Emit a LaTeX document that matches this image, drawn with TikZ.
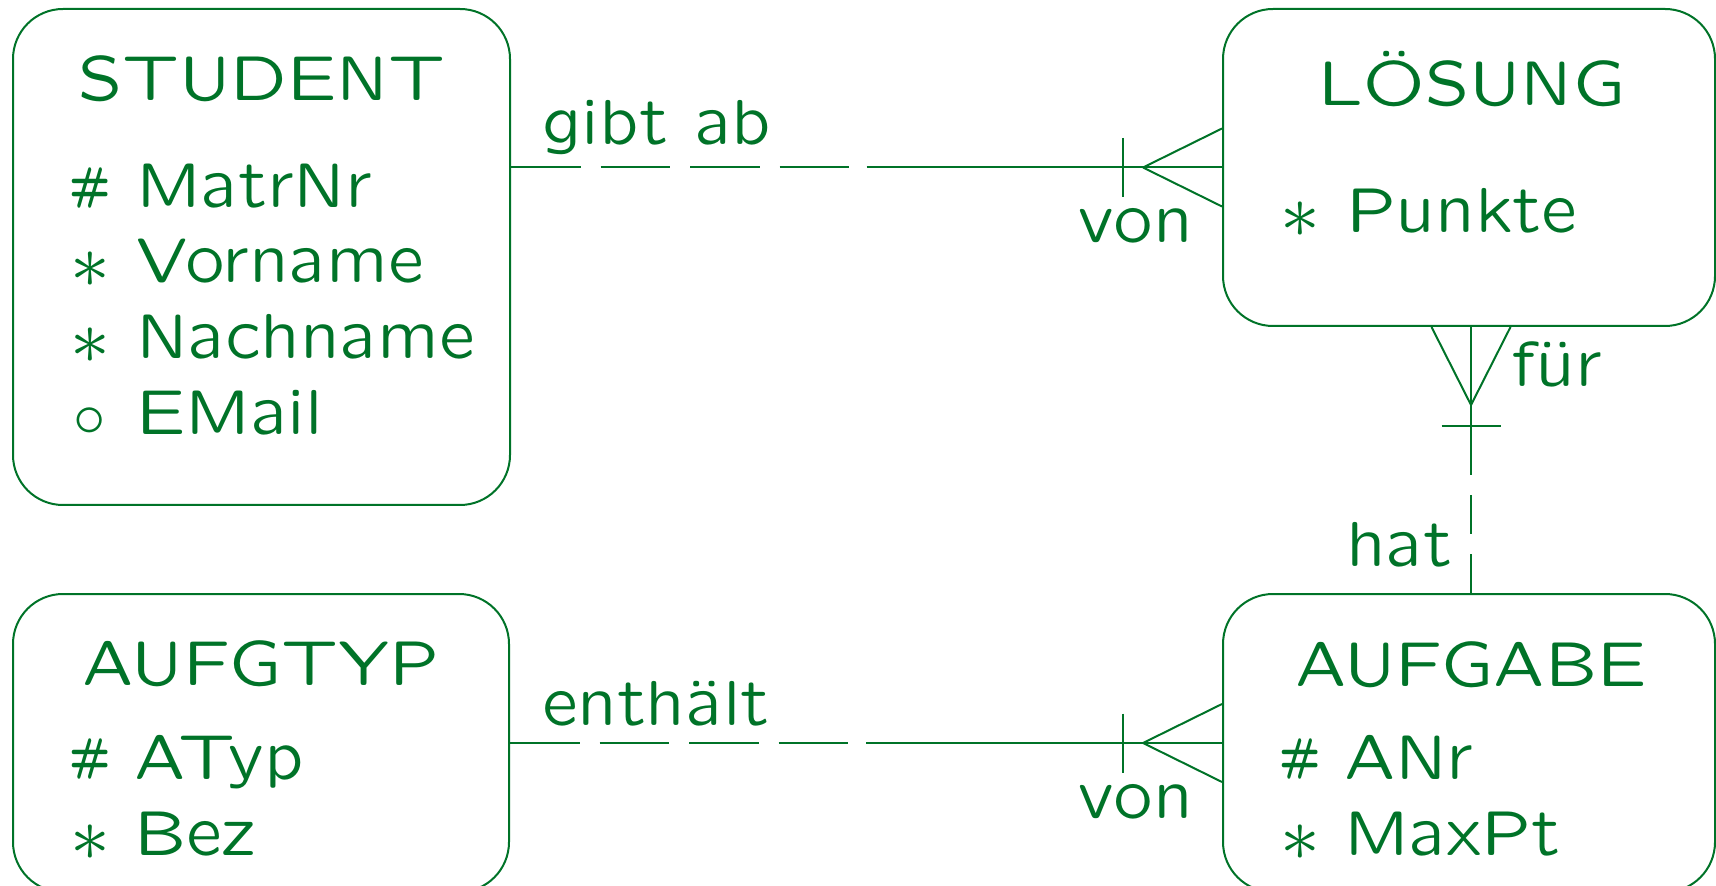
\documentclass[tikz,border=0pt]{standalone}
\usepackage[OT1,TU]{fontenc}
\usepackage{graphicx}
\usetikzlibrary{calc}
\DeclareFontFamily{OT1}{slcmss}{}
\DeclareFontShape{OT1}{slcmss}{m}{n}{<-> lcmss8}{}
\DeclareFontShape{OT1}{slcmss}{bx}{n}{<-> lcmssb8}{}
\definecolor{ergreen}{RGB}{0,115,40}
\newcommand\slf{\fontencoding{OT1}\fontfamily{slcmss}\fontseries{m}\fontshape{n}\fontsize{31.8}{38}\selectfont}
\newcommand\symhash{\raisebox{\depth}{\scalebox{1}[1.35]{\fontseries{bx}\fontsize{18}{20}\selectfont\#}}}
\newcommand\symstar{\raisebox{-9pt}{*}}
\newcommand\symcirc{\raisebox{-1pt}{\scalebox{1.3}{$\circ$}}}
\tikzset{
  entity/.style={draw=ergreen, line width=1pt, rounded corners=25pt, inner sep=0pt},
  txt/.style={inner sep=0pt, outer sep=0pt, text=ergreen, font=\slf},
  ttl/.style={txt, anchor=base},
  attr/.style={txt, anchor=base west},
  sym/.style={txt, anchor=base},
  lbl/.style={txt},
  rel/.style={draw=ergreen, line width=1pt},
  opt/.style={rel, dash pattern=on 34.75pt off 10pt},
  optv/.style={rel, dash pattern=on 19.5pt off 10pt}
}
\begin{document}
\begin{tikzpicture}[x=0.5pt,y=-0.5pt]
\useasboundingbox (0,0) rectangle (1716,886);
% entities
\node[entity, minimum width=248.5pt, minimum height=248pt] (stud) at (261.5,257) {};
\node[entity, minimum width=246pt, minimum height=158.5pt] (los) at (1469,167.5) {};
\node[entity, minimum width=248pt, minimum height=149pt] (typ) at (261,743) {};
\node[entity, minimum width=246pt, minimum height=149pt] (aufg) at (1469,743) {};
% STUDENT
\node[ttl] (studT) at (262,100.6) {STUDENT};
\node[sym] (s1) at (90.5,208) {\symhash};
\node[attr] (a1) at (136,208) {MatrNr};
\node[sym] (s2) at (90,283) {\symstar};
\node[attr] (a2) at (136,283) {Vorname};
\node[sym] (s3) at (90,359) {\symstar};
\node[attr] (a3) at (136,359) {Nachname};
\node[sym] (s4) at (90,435) {\symcirc};
\node[attr] (a4) at (136,435) {EMail};
% LOESUNG
\node[ttl] (losT) at (1472,106) {L\"OSUNG};
\node[sym] (s5) at (1300,233) {\symstar};
\node[attr] (a5) at (1346,233) {Punkte};
% AUFGTYP
\node[ttl] (typT) at (261,685) {AUFGTYP};
\node[sym] (s6) at (90.5,779) {\symhash};
\node[attr] (a6) at (134,779) {ATyp};
\node[sym] (s7) at (90,855) {\symstar};
\node[attr] (a7) at (134,855) {Bez};
% AUFGABE
\node[ttl] (aufgT) at (1471,686) {AUFGABE};
\node[sym] (s8) at (1300.5,779) {\symhash};
\node[attr] (a8) at (1344,779) {ANr};
\node[sym] (s9) at (1300,855) {\symstar};
\node[attr] (a9) at (1344,855) {MaxPt};
% relationship STUDENT - LOESUNG
\coordinate (r1s) at (stud.east |- los.west);
\coordinate (r1m) at ($(r1s)!0.5!(los.west)$);
\draw[opt] (r1s) -- (r1m);
\draw[rel] (r1m) -- (los.west);
\coordinate (r1a) at ($(los.west)+(-79,0)$);
\draw[rel] (r1a) -- ($(los.west)+(0,-39)$);
\draw[rel] (r1a) -- ($(los.west)+(0,39)$);
\draw[rel] ($(los.west)+(-99,-29.5)$) -- ($(los.west)+(-99,29.5)$);
\node[lbl, anchor=base west] (l1) at (542,145) {gibt ab};
\node[lbl, anchor=base east] (l2) at (1193,243) {von};
% relationship AUFGTYP - AUFGABE
\coordinate (r2m) at ($(typ.east)!0.5!(aufg.west)$);
\draw[opt] (typ.east) -- (r2m);
\draw[rel] (r2m) -- (aufg.west);
\coordinate (r2a) at ($(aufg.west)+(-79,0)$);
\draw[rel] (r2a) -- ($(aufg.west)+(0,-39)$);
\draw[rel] (r2a) -- ($(aufg.west)+(0,39)$);
\draw[rel] ($(aufg.west)+(-99,-29.5)$) -- ($(aufg.west)+(-99,29.5)$);
\node[lbl, anchor=base west] (l3) at (542,725) {enth\"alt};
\node[lbl, anchor=base east] (l4) at (1193,818) {von};
% relationship AUFGABE - LOESUNG
\coordinate (r3s) at ($(los.south)+(2,0)$);
\coordinate (r3e) at ($(aufg.north)+(2,0)$);
\coordinate (r3m) at ($(r3e)+(0,-119)$);
\draw[optv] (r3e) -- (r3m);
\draw[rel] (r3m) -- (r3s);
\coordinate (r3a) at ($(r3s)+(0,78)$);
\draw[rel] (r3a) -- ($(r3s)+(-39.5,0)$);
\draw[rel] (r3a) -- ($(r3s)+(39.5,0)$);
\draw[rel] ($(r3s)+(-29.5,99)$) -- ($(r3s)+(29.5,99)$);
\node[lbl, anchor=base west] (l5) at (1511,387) {f\"ur};
\node[lbl, anchor=base east] (l6) at (1452,567) {hat};
\end{tikzpicture}
\end{document}
